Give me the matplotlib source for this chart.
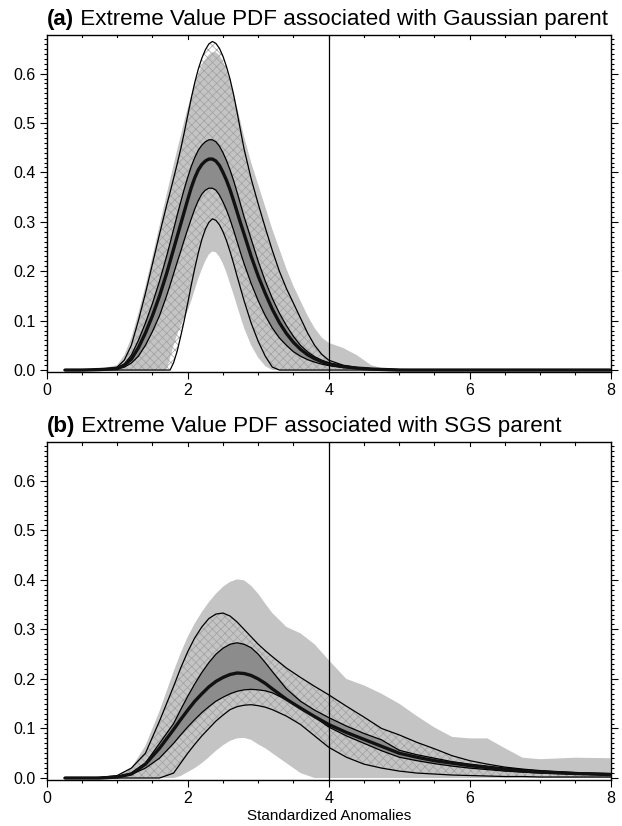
import matplotlib
matplotlib.use("Agg")
import matplotlib.pyplot as plt
import numpy as np
from matplotlib.ticker import MultipleLocator

plt.rcParams['font.family'] = ['Liberation Sans', 'DejaVu Sans']
plt.rcParams['hatch.linewidth'] = 0.5

# ---- panel (a): Gaussian parent ----
xa = [0.25, 0.5, 0.75, 1.0, 1.1, 1.2, 1.3, 1.4, 1.5, 1.6,
      1.7, 1.75, 1.8, 1.85, 1.9, 1.95, 2.0, 2.05, 2.1, 2.15, 2.2, 2.25, 2.3, 2.35,
      2.4, 2.45, 2.5, 2.55, 2.6, 2.65, 2.7, 2.75, 2.8,
      2.9, 3.0, 3.1, 3.2, 3.3, 3.4, 3.5, 3.6, 3.7, 3.8, 3.9, 4.0,
      4.2, 4.4, 4.6, 4.8, 5.0, 6.0, 7.0, 8.0]
a_gray_hi = [0, 0, 0.002, 0.01, 0.03, 0.065, 0.115, 0.17, 0.23, 0.292,
             0.355, 0.385, 0.415, 0.445, 0.473, 0.503, 0.53, 0.556, 0.58, 0.6, 0.616,
             0.629, 0.638, 0.643, 0.643, 0.637, 0.625, 0.607, 0.585, 0.56, 0.532,
             0.502, 0.472,
             0.42, 0.375, 0.33, 0.285, 0.245, 0.205, 0.17, 0.14, 0.11, 0.085, 0.066,
             0.055,
             0.045, 0.03, 0.01, 0.002, 0, 0, 0, 0]
a_gray_lo = [0, 0, 0, 0, 0, 0, 0, 0, 0, 0,
             0, 0.025, 0.05, 0.072, 0.09, 0.105, 0.12, 0.14, 0.163, 0.185, 0.204,
             0.221, 0.234, 0.24, 0.238, 0.229, 0.215, 0.197, 0.175, 0.153, 0.13,
             0.107, 0.085,
             0.05, 0.025, 0.008, 0, 0, 0, 0, 0, 0, 0, 0, 0,
             0, 0, 0, 0, 0, 0, 0, 0]
a_upper = [0, 0, 0.001, 0.006, 0.02, 0.05, 0.1, 0.155, 0.215, 0.275,
           0.333, 0.36, 0.388, 0.417, 0.447, 0.48, 0.515, 0.55, 0.582, 0.609, 0.631,
           0.648, 0.66, 0.665, 0.661, 0.651, 0.635, 0.614, 0.589, 0.558, 0.522,
           0.484, 0.447,
           0.387, 0.336, 0.288, 0.242, 0.2, 0.165, 0.135, 0.105, 0.075, 0.05, 0.032,
           0.02,
           0.01, 0.005, 0.003, 0.002, 0.001, 0, 0, 0]
a_band_hi = [0, 0, 0.001, 0.004, 0.012, 0.03, 0.06, 0.095, 0.135, 0.18,
             0.23, 0.257, 0.285, 0.313, 0.34, 0.366, 0.39, 0.412, 0.43, 0.445, 0.455,
             0.462, 0.466, 0.466, 0.462, 0.453, 0.44, 0.424, 0.405, 0.384, 0.36,
             0.335, 0.31,
             0.265, 0.22, 0.18, 0.145, 0.115, 0.09, 0.068, 0.05, 0.037, 0.027, 0.02,
             0.015,
             0.009, 0.005, 0.003, 0.002, 0.001, 0, 0, 0]
a_median = [0, 0, 0.001, 0.003, 0.01, 0.022, 0.045, 0.075, 0.11, 0.15,
            0.195, 0.22, 0.245, 0.27, 0.295, 0.32, 0.345, 0.369, 0.389, 0.405, 0.416,
            0.423, 0.427, 0.427, 0.423, 0.414, 0.4, 0.384, 0.365, 0.343, 0.32,
            0.297, 0.275,
            0.23, 0.19, 0.155, 0.123, 0.096, 0.074, 0.056, 0.042, 0.031, 0.023, 0.017,
            0.012,
            0.007, 0.004, 0.002, 0.001, 0, 0, 0, 0]
a_band_lo = [0, 0, 0, 0.002, 0.006, 0.014, 0.028, 0.05, 0.078, 0.11,
             0.15, 0.172, 0.195, 0.218, 0.24, 0.263, 0.285, 0.306, 0.326, 0.343, 0.356,
             0.364, 0.368, 0.368, 0.364, 0.354, 0.34, 0.324, 0.305, 0.283, 0.26,
             0.237, 0.215,
             0.175, 0.14, 0.11, 0.085, 0.065, 0.05, 0.037, 0.028, 0.021, 0.016, 0.012,
             0.009,
             0.005, 0.003, 0.002, 0.001, 0, 0, 0, 0]
a_lower = [0, 0, 0, 0, 0, 0, 0, 0, 0, 0,
           0, 0, 0.015, 0.038, 0.068, 0.1, 0.135, 0.172, 0.206, 0.237, 0.264,
           0.285, 0.299, 0.306, 0.303, 0.294, 0.28, 0.262, 0.24, 0.216, 0.19,
           0.165, 0.14,
           0.095, 0.058, 0.028, 0.006, 0, 0, 0, 0, 0, 0, 0, 0,
           0, 0, 0, 0, 0, 0, 0, 0]

# ---- panel (b): SGS parent ----
xb = [0.25, 0.5, 0.75, 1.0, 1.2, 1.4, 1.6, 1.8,
      1.9, 2.0, 2.1, 2.2, 2.3, 2.4, 2.5, 2.6, 2.7, 2.8, 2.9, 3.0, 3.1, 3.2,
      3.4, 3.6, 3.8, 4.0, 4.25, 4.5, 4.75, 5.0, 5.25, 5.5, 5.75, 6.0, 6.25, 6.5,
      6.75, 7.0, 7.5, 8.0]
b_gray_hi = [0, 0, 0, 0.003, 0.02, 0.065, 0.135, 0.215,
             0.252, 0.285, 0.312, 0.335, 0.355, 0.372, 0.386, 0.396, 0.401, 0.399,
             0.388, 0.372, 0.352, 0.333,
             0.305, 0.292, 0.27, 0.238, 0.2, 0.187, 0.17, 0.15, 0.125, 0.102, 0.083,
             0.08, 0.08, 0.06, 0.041, 0.038, 0.041, 0.04]
b_gray_lo = [0, 0, 0, 0, 0, 0, 0, 0,
             0.004, 0.012, 0.02, 0.03, 0.042, 0.055, 0.066, 0.075, 0.08, 0.081, 0.077,
             0.068, 0.06, 0.05,
             0.03, 0.01, 0, 0, 0, 0, 0, 0, 0, 0, 0, 0, 0, 0, 0, 0, 0, 0]
b_upper = [0, 0, 0.001, 0.005, 0.02, 0.05, 0.115, 0.185,
           0.222, 0.255, 0.283, 0.305, 0.322, 0.331, 0.333, 0.327, 0.315, 0.3, 0.285,
           0.27, 0.257, 0.245,
           0.222, 0.203, 0.185, 0.168, 0.145, 0.123, 0.1, 0.087, 0.072, 0.059, 0.045,
           0.035, 0.028, 0.022, 0.018, 0.015, 0.011, 0.009]
b_band_hi = [0, 0, 0.001, 0.003, 0.01, 0.03, 0.07, 0.11,
             0.138, 0.165, 0.19, 0.213, 0.233, 0.25, 0.262, 0.27, 0.273, 0.27, 0.263,
             0.25, 0.233, 0.215,
             0.18, 0.155, 0.137, 0.122, 0.105, 0.09, 0.077, 0.056, 0.047, 0.04, 0.033,
             0.028, 0.024, 0.02, 0.017, 0.014, 0.01, 0.008]
b_median = [0, 0, 0, 0.002, 0.008, 0.028, 0.06, 0.098,
            0.118, 0.137, 0.155, 0.17, 0.184, 0.195, 0.203, 0.209, 0.212, 0.211, 0.207,
            0.2, 0.191, 0.18,
            0.159, 0.141, 0.124, 0.108, 0.092, 0.078, 0.064, 0.05, 0.042, 0.035, 0.03,
            0.025, 0.021, 0.017, 0.014, 0.012, 0.009, 0.007]
b_band_lo = [0, 0, 0, 0.002, 0.007, 0.02, 0.04, 0.07,
             0.087, 0.103, 0.118, 0.132, 0.144, 0.155, 0.163, 0.17, 0.175, 0.178, 0.179,
             0.178, 0.176, 0.172,
             0.158, 0.143, 0.123, 0.103, 0.085, 0.07, 0.055, 0.042, 0.035, 0.029, 0.024,
             0.02, 0.017, 0.014, 0.012, 0.01, 0.008, 0.006]
b_lower = [0, 0, 0, 0, 0, 0, 0, 0.01,
           0.03, 0.05, 0.068, 0.085, 0.1, 0.115, 0.127, 0.138, 0.144, 0.147, 0.148,
           0.146, 0.143, 0.138,
           0.125, 0.108, 0.085, 0.062, 0.042, 0.028, 0.02, 0.014, 0.01, 0.008, 0.006,
           0.005, 0.004, 0.003, 0.003, 0.002, 0.002, 0.002]

titles = [("(a)", " Extreme Value PDF associated with Gaussian parent"),
          ("(b)", " Extreme Value PDF associated with SGS parent")]

LIGHT = '#c4c4c4'
DARK = '#8c8c8c'
HATCH = '#a0a0a0'

fig = plt.figure(figsize=(6.22, 8.26), dpi=100)
ax_a = fig.add_axes([0.0751, 0.5496, 0.9068, 0.408])
ax_b = fig.add_axes([0.0751, 0.0557, 0.9068, 0.409])

panels = [
    (ax_a, xa, a_gray_hi, a_gray_lo, a_upper, a_band_hi, a_median, a_band_lo, a_lower),
    (ax_b, xb, b_gray_hi, b_gray_lo, b_upper, b_band_hi, b_median, b_band_lo, b_lower),
]

for (ax, x, g_hi, g_lo, up, bh, med, bl, lo), (tag, rest) in zip(panels, titles):
    x = np.asarray(x)
    # light grey envelope
    ax.fill_between(x, g_lo, g_hi, facecolor=LIGHT, edgecolor='none', zorder=1)
    # cross-hatched range between the outer curves
    ax.fill_between(x, lo, up, facecolor='none', edgecolor=HATCH, hatch='xxxx',
                    linewidth=0, zorder=2)
    # darker inner band
    ax.fill_between(x, bl, bh, facecolor=DARK, edgecolor='none', zorder=3)
    for y in (up, bh, bl, lo):
        ax.plot(x, y, color='black', lw=0.9, zorder=4)
    ax.plot(x, med, color='#111111', lw=2.4, zorder=5, solid_capstyle='butt')
    ax.axvline(4, color='black', lw=0.9, zorder=6)

    ax.set_xlim(0, 8)
    ax.set_ylim(-0.004, 0.678)
    ax.xaxis.set_major_locator(MultipleLocator(2))
    ax.xaxis.set_minor_locator(MultipleLocator(0.5))
    ax.yaxis.set_minor_locator(MultipleLocator(0.01))
    ax.set_yticks(np.arange(0, 0.61, 0.1))
    ax.set_yticklabels([f"{v:.1f}" for v in np.arange(0, 0.61, 0.1)])
    ax.tick_params(axis='both', which='both', direction='out', right=True,
                   labelsize=11.5, width=0.8, pad=3)
    ax.tick_params(axis='both', which='major', length=5)
    ax.tick_params(axis='both', which='minor', length=2.5)
    # top ticks hang inside the frame
    for xt in np.arange(0.5, 8, 0.5):
        L = 0.012 if xt % 2 == 0 else 0.007
        ax.plot([xt, xt], [1.0, 1.0 - L], transform=ax.get_xaxis_transform(),
                color='black', lw=0.8, clip_on=False, zorder=7)
    for s in ax.spines.values():
        s.set_linewidth(1.0)

    t1 = ax.text(0.0, 1.015, tag, transform=ax.transAxes, fontsize=16.1,
                 fontweight='bold', ha='left', va='bottom')
    fig.canvas.draw()
    bb = t1.get_window_extent()
    x1 = ax.transAxes.inverted().transform((bb.x1, bb.y0))[0]
    ax.text(x1, 1.015, rest, transform=ax.transAxes, fontsize=16.1,
            ha='left', va='bottom')

ax_b.set_xlabel("Standardized Anomalies", fontsize=11, labelpad=2)

fig.savefig("out.png", dpi=100)
